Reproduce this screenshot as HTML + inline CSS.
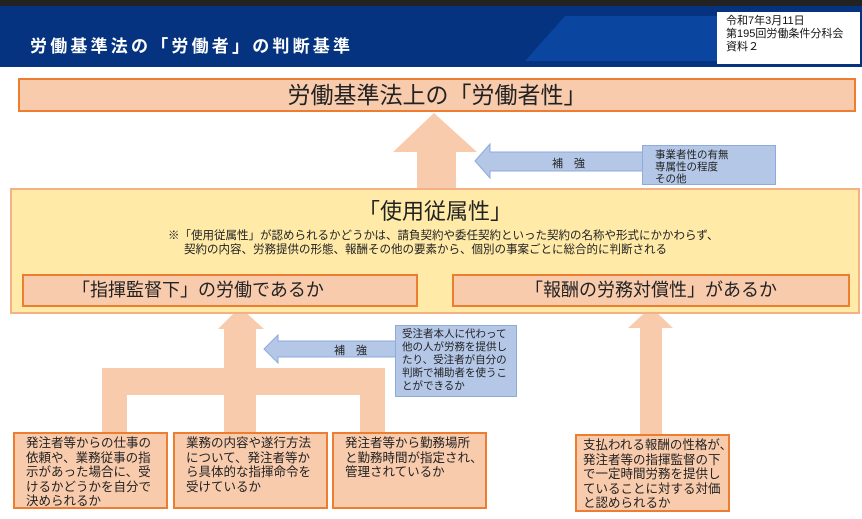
<!DOCTYPE html>
<html><head><meta charset="utf-8"><style>
body{margin:0;width:862px;height:519px;overflow:hidden;background:#fff;font-family:"Liberation Sans","Noto Sans CJK JP",sans-serif;position:relative}
.a{position:absolute;box-sizing:border-box;white-space:nowrap}
.o{background:#f8cbad;border:2px solid #ed7d31}
.b{background:#b4c7e7;border:1.5px solid #8faadc;font-size:10.5px;line-height:12px;color:#222;padding:3px 0 0 12px}
.t{font-size:12.5px;line-height:14.5px;color:#222;padding:2px 0 0 11px}
</style></head><body>
<div class="a" style="left:0;top:0;width:862px;height:6px;background:#222"></div>
<div class="a" style="left:0;top:6px;width:862px;height:61px;background:#053380"></div>
<svg class="a" style="left:0;top:6px" width="862" height="61"><polygon points="525,55 565,10 720,10 720,55" fill="#0a45a0"/></svg>
<div class="a" style="left:30px;top:32px;color:#fff;font-size:17px;font-weight:bold;letter-spacing:3.2px">労働基準法の「労働者」の判断基準</div>
<div class="a" style="left:717px;top:12px;width:143px;height:52px;background:#fff;font-size:11px;line-height:13px;padding:3px 0 0 9px;color:#111">令和7年3月11日<br>第195回労働条件分科会<br>資料２</div>
<svg class="a" style="left:0;top:0" width="862" height="519">
<g fill="#f8cbad">
<polygon points="434,113 477,152 456,152 456,190 417,190 417,152 393,152"/>
<polygon points="240,307 264,329 256,329 256,432 224,432 224,329 218,329"/>
<rect x="102" y="368" width="283" height="27"/>
<rect x="102" y="368" width="25" height="64"/>
<rect x="360" y="368" width="25" height="64"/>
<polygon points="651,307 673,328 662,328 662,434 640,434 640,328 628,328"/>
</g>
<g fill="#b4c7e7" stroke="#8faadc" stroke-width="1">
<polygon points="475,161 490,144 490,152 645,152 645,171 490,171 490,178"/>
<polygon points="264,349 278,335 278,341 400,341 400,357 278,357 278,363"/>
</g>
<text x="552" y="167" font-size="11" fill="#222" font-family="Liberation Sans,Noto Sans CJK JP,sans-serif">補　強</text>
<text x="334" y="354" font-size="11" fill="#222" font-family="Liberation Sans,Noto Sans CJK JP,sans-serif">補　強</text>
</svg>
<div class="a o" style="left:18px;top:78px;width:838px;height:34px;text-align:center;font-size:23px;line-height:30px;color:#222">労働基準法上の「労働者性」</div>
<div class="a b" style="left:642px;top:145px;width:134px;height:40px">事業者性の有無<br>専属性の程度<br>その他</div>
<div class="a" style="left:10px;top:188px;width:850px;height:126px;background:#ffeaa8;border:2px solid #f4b183"></div>
<div class="a" style="left:10px;top:194px;width:850px;text-align:center;font-size:22px;color:#222">「使用従属性」</div>
<div class="a" style="left:168px;top:230px;font-size:11.5px;line-height:13.5px;color:#222">※「使用従属性」が認められるかどうかは、請負契約や委任契約といった契約の名称や形式にかかわらず、<br>&nbsp;&nbsp;&nbsp;&nbsp;&nbsp;契約の内容、労務提供の形態、報酬その他の要素から、個別の事案ごとに総合的に判断される</div>
<div class="a o" style="left:22px;top:274px;width:396px;height:33px;font-size:18px;line-height:29px;padding-left:48px;color:#222">「指揮監督下」の労働であるか</div>
<div class="a o" style="left:452px;top:274px;width:398px;height:33px;font-size:18px;line-height:29px;text-align:center;color:#222">「報酬の労務対償性」があるか</div>
<div class="a b" style="left:395px;top:325px;width:122px;height:72px;font-size:10.5px;line-height:13px;padding:2px 0 0 6px">受注者本人に代わって<br>他の人が労務を提供し<br>たり、受注者が自分の<br>判断で補助者を使うこ<br>とができるか</div>
<div class="a o t" style="left:13px;top:432px;width:155px;height:77px">発注者等からの仕事の<br>依頼や、業務従事の指<br>示があった場合に、受<br>けるかどうかを自分で<br>決められるか</div>
<div class="a o t" style="left:173px;top:432px;width:155px;height:77px">業務の内容や遂行方法<br>について、発注者等か<br>ら具体的な指揮命令を<br>受けているか</div>
<div class="a o t" style="left:332px;top:432px;width:155px;height:77px">発注者等から勤務場所<br>と勤務時間が指定され、<br>管理されているか</div>
<div class="a o t" style="left:575px;top:434px;width:155px;height:78px;padding-left:6px">支払われる報酬の性格が、<br>発注者等の指揮監督の下<br>で一定時間労務を提供し<br>ていることに対する対価<br>と認められるか</div>
</body></html>
